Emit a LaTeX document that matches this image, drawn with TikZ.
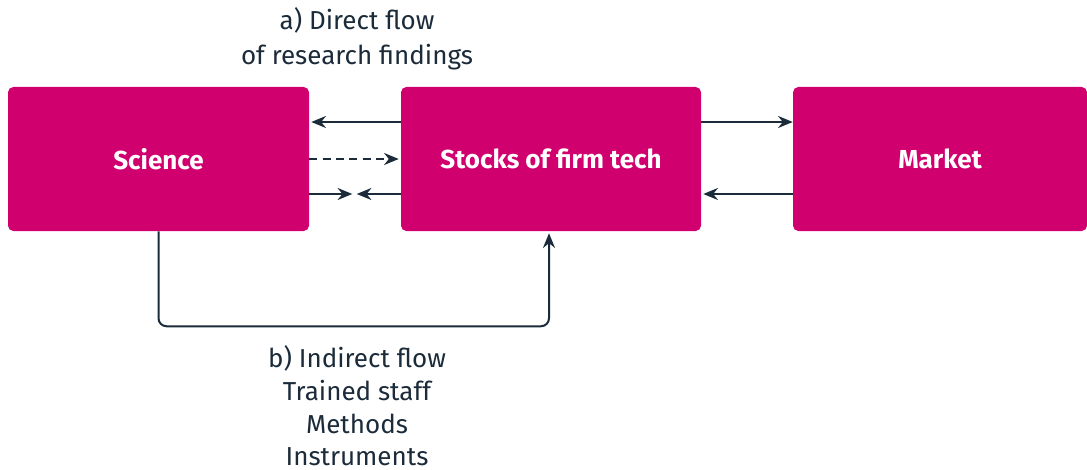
\documentclass[tikz,border=0pt]{standalone}
\usepackage{fontspec}
\setmainfont{Fira Sans}
\usetikzlibrary{arrows.meta}
\definecolor{mag}{HTML}{D0006F}
\definecolor{ink}{HTML}{1B2B3A}
\tikzset{
  box/.style={fill=mag, rounded corners=4pt, text=white, font=\fontsize{19.5}{22}\selectfont\bfseries, inner sep=0pt},
  arr/.style={draw=ink, line width=1.5pt, -{Stealth[length=11pt,width=9pt]}},
  lbl/.style={text=ink, align=center, font=\fontsize{19.5}{24.5}\selectfont, inner sep=0pt}
}
\begin{document}
\begin{tikzpicture}[x=0.75pt,y=-0.75pt]
\useasboundingbox (0,0) rectangle (1087,470);
\node[box, minimum width=225.75pt, minimum height=108pt] (science) at (158.5,159) {Science};
\node[box, minimum width=225pt, minimum height=108pt] (stocks) at (551,159) {Stocks of firm tech};
\node[box, minimum width=220.5pt, minimum height=108pt] (market) at (940,159) {Market};
\node[lbl, font=\fontsize{19.5}{26}\selectfont] (la) at (357,39) {a) Direct flow\\of research findings};
\node[lbl] (lb) at (357,406) {b) Indirect flow\\Trained staff\\Methods\\Instruments};
% left side arrows
\draw[arr] ([yshift=27.75pt]stocks.west) -- ([yshift=27.75pt,xshift=1.5pt]science.east);
\draw[arr, dashed, dash pattern=on 6pt off 4pt] (science.east) -- ([xshift=-1.5pt]stocks.west);
\coordinate (m1) at ([yshift=-26.25pt,xshift=32.25pt]science.east);
\coordinate (m2) at ([yshift=-26.25pt,xshift=-33pt]stocks.west);
\draw[arr] ([yshift=-26.25pt]science.east) -- (m1);
\draw[arr] ([yshift=-26.25pt]stocks.west) -- (m2);
% right side arrows
\draw[arr] ([yshift=27.75pt]stocks.east) -- ([yshift=27.75pt]market.west);
\draw[arr] ([yshift=-26.25pt]market.west) -- ([yshift=-26.25pt,xshift=1.5pt]stocks.east);
% indirect flow
\draw[arr, rounded corners=6pt] (science.south) -- ++(0,95) -| ([xshift=-1.5pt,yshift=-1.5pt]stocks.south);
\end{tikzpicture}
\end{document}
